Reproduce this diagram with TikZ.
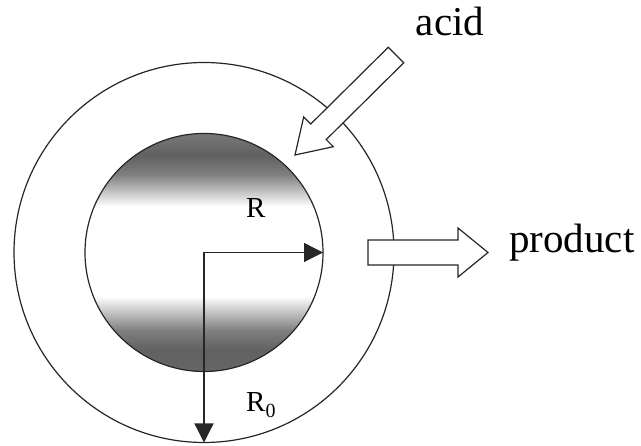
\documentclass[tikz,border=0pt]{standalone}
\usepackage{fontspec}
\setmainfont{Liberation Serif}
\usetikzlibrary{arrows.meta}
\pgfdeclareverticalshading{coreshade}{100bp}{color(0bp)=(black!60); color(25bp)=(black!60); color(30bp)=(black!62); color(34bp)=(black!50); color(41bp)=(white); color(59.5bp)=(white); color(66bp)=(black!50); color(70bp)=(black!62); color(75bp)=(black!52); color(100bp)=(black!52)}
\begin{document}
\begin{tikzpicture}[x=1pt,y=-1pt,
  ln/.style={line width=1.2pt,draw=black!85},
  ring/.style={ln,circle,inner sep=0pt,outer sep=0pt},
  hollow/.style={ln,fill=white,line join=miter},
  radarrow/.style={line width=1.3pt,draw=black!85,-{Triangle[length=19pt,width=19pt]}},
  bigtxt/.style={font=\fontsize{41}{48}\selectfont,inner sep=0pt},
  lbl/.style={font=\fontsize{29}{34}\selectfont,inner sep=0pt}]
\useasboundingbox (0,0) rectangle (641,446);
\fill[white] (0,0) rectangle (641,446);
\coordinate (c) at (204,252.5);
% shaded core
\begin{scope}
  \clip (c) circle (119);
  \shade[shading=coreshade] (80,131) rectangle (330,374);
\end{scope}
\node[ring,minimum size=380pt] (outer) at (c) {};
\node[ring,minimum size=238pt] (inner) at (c) {};
% radius arrows
\draw[radarrow] (c) -- (inner.east);
\draw[radarrow] (c) -- (outer.south);
\node[lbl,anchor=base west] (R) at (246,218) {R};
\node[lbl,anchor=base west] (R0) at (246,412) {R\raisebox{-6pt}{\fontsize{20}{20}\selectfont 0}};
% acid arrow
\draw[hollow] (388.3,47.2) -- (310.8,124.0) -- (303.7,116.9) -- (295,155) -- (333.3,146.7) -- (326.2,139.6) -- (403.7,62.8) -- cycle;
\node[bigtxt,anchor=base] (acid) at (450,36) {acid};
% product arrow
\draw[hollow] (368,240) -- (458,240) -- (458,228) -- (488,252.5) -- (458,277) -- (458,265) -- (368,265) -- cycle;
\node[bigtxt,anchor=base west] (product) at (509,253) {product};
\end{tikzpicture}
\end{document}
